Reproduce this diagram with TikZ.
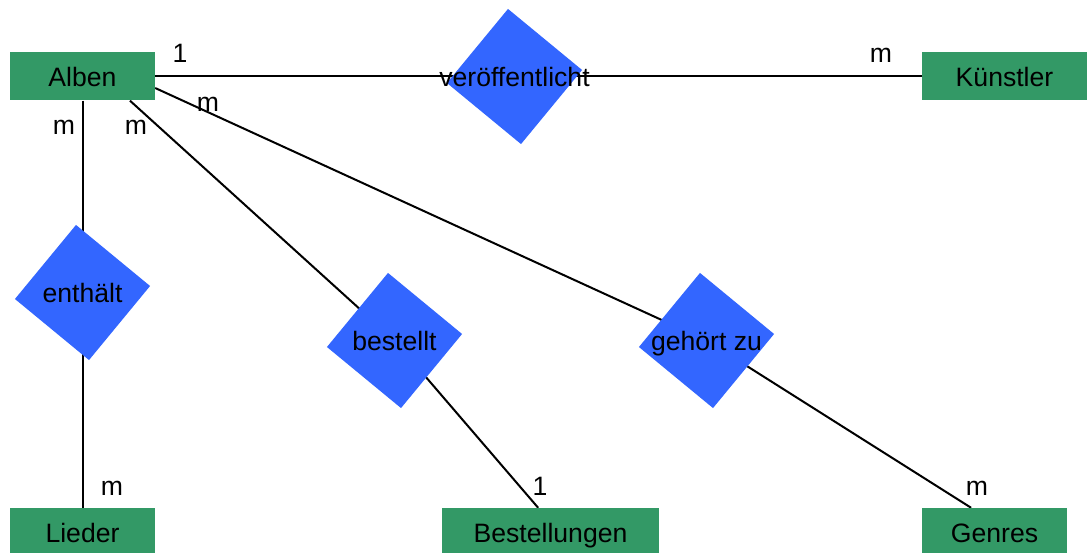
\documentclass[tikz,border=0pt]{standalone}
\usepackage{fontspec}
\setmainfont{Liberation Sans}
\usepackage{tikz}
\usetikzlibrary{backgrounds}

\definecolor{entgreen}{RGB}{51,153,102}
\definecolor{relblue}{RGB}{51,102,255}

\tikzset{
  entity/.style={fill=entgreen,minimum height=48pt,inner sep=0pt,text height=20pt,text depth=0pt},
  relation/.style={fill=relblue,minimum size=96pt,inner sep=0pt,rotate=50.5},
  reltext/.style={inner sep=0pt,text height=20pt,text depth=0pt},
  card/.style={anchor=base,inner sep=0pt},
  conn/.style={line width=2pt}
}

\begin{document}
\begin{tikzpicture}[x=1pt,y=-1pt,font=\fontsize{26.6}{32}\selectfont]
          \useasboundingbox (0,0) rectangle (1087,553);
          % entities
          \node[entity,minimum width=145pt] (alben)     at (82.5,76.5)   {Alben};
          \node[entity,minimum width=165pt] (kuenstler) at (1004.5,76.5) {Künstler};
          \node[entity,minimum width=145pt] (lieder)    at (82.5,532)    {Lieder};
          \node[entity,minimum width=217pt] (bestellungen) at (550.5,532) {Bestellungen};
          \node[entity,minimum width=145pt] (genres)    at (994.5,532)   {Genres};
          % relations
          \node[relation] (veroeff) at (514.5,76.5)  {};
          \node[reltext]  (veroeffT) at (veroeff)    {veröffentlicht};
          \node[relation] (enthaelt) at (82.5,292.5) {};
          \node[reltext]  (enthaeltT) at (enthaelt)  {enthält};
          \node[relation] (bestellt) at (394.5,340.5) {};
          \node[reltext]  (bestelltT) at (bestellt)  {bestellt};
          \node[relation] (gehoert) at (706.5,340.5) {};
          \node[reltext]  (gehoertT) at (gehoert)    {gehört zu};
          % cardinalities
          \node[card] (c1) at (180,63)  {1};
          \node[card] (c2) at (881,63)  {m};
          \node[card] (c3) at (64,135)  {m};
          \node[card] (c4) at (136,135) {m};
          \node[card] (c5) at (208,112) {m};
          \node[card] (c6) at (112,495) {m};
          \node[card] (c7) at (540,495) {1};
          \node[card] (c8) at (977,495) {m};
          \begin{scope}[on background layer]
            \draw[conn] (alben.east) -- (veroeff.center) -- (kuenstler.west);
            \draw[conn] (alben.south) -- (enthaelt.center) -- (lieder.north);
            \draw[conn] (alben.-27) -- (bestellt.center) -- (bestellungen.117);
            \draw[conn] (alben.-9) -- (gehoert.center) -- (genres.134);
          \end{scope}
\end{tikzpicture}
\end{document}
